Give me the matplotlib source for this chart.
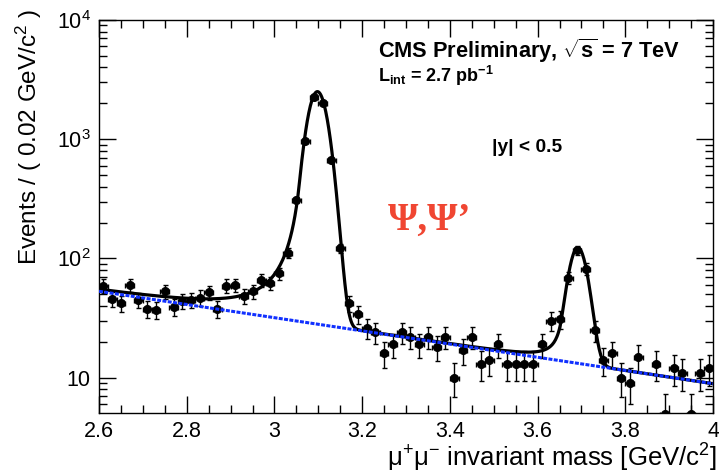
import numpy as np
import matplotlib
matplotlib.use('Agg')
import matplotlib.pyplot as plt
from matplotlib.ticker import MultipleLocator, LogLocator, FuncFormatter, NullFormatter

plt.rcParams['font.family'] = ['Liberation Sans', 'DejaVu Sans']
plt.rcParams['mathtext.fontset'] = 'custom'
plt.rcParams['mathtext.rm'] = 'Liberation Sans'
plt.rcParams['mathtext.it'] = 'Liberation Sans:italic'
plt.rcParams['mathtext.bf'] = 'Liberation Sans:bold'

# dimuon mass spectrum, 0.02 GeV bins
bin_width = 0.02
mass = np.round(np.arange(2.61, 4.0, bin_width), 2)
counts = [59, 46, 42, 60, 45, 38, 37, 53, 39, 44, 45, 47, 52, 38, 59, 60, 48, 53, 66, 62,
          75, 111, 310, 957, 2280, 2030, 671, 122, 42, 34, 26, 24, 16, 19, 24, 22, 19, 22, 18, 22,
          10, 17, 22, 13, 14, 19, 13, 13, 13, 13, 19, 30, 31, 69, 117, 82, 25, 14, 16, 10,
          9, 15, 0, 13, 5, 12, 11, 5, 11, 12]

# fit result (background exponential + two Crystal Ball peaks), per bin
bg_at_26 = 53.0
bg_at_40 = 8.9
jpsi_peak = 2480.0
jpsi_mean = 3.098
jpsi_sigma = 0.0215
psi2s_peak = 110.0
psi2s_mean = 3.692
psi2s_sigma = 0.0195
cb_alpha = 1.9
cb_n = 1.6


def background(m):
    slope = np.log(bg_at_40 / bg_at_26) / 1.4
    return bg_at_26 * np.exp(slope * (m - 2.6))


def crystal_ball(m, mean, sigma):
    t = (m - mean) / sigma
    a = (cb_n / cb_alpha) ** cb_n * np.exp(-cb_alpha ** 2 / 2)
    b = cb_n / cb_alpha - cb_alpha
    tail = a * np.abs(b - t) ** (-cb_n)
    return np.where(t > -cb_alpha, np.exp(-t ** 2 / 2), tail)


m_fit = np.linspace(2.6, 4.0, 800)
bg_curve = background(m_fit)
total_curve = (bg_curve + jpsi_peak * crystal_ball(m_fit, jpsi_mean, jpsi_sigma)
               + psi2s_peak * crystal_ball(m_fit, psi2s_mean, psi2s_sigma))

counts = np.array(counts, dtype=float)
keep = counts > 0

fig = plt.figure(figsize=(7.19, 4.74), dpi=100)
ax = fig.add_axes([99 / 719, 1 - 413 / 474, 614 / 719, 393 / 474])

ax.errorbar(mass[keep], counts[keep], yerr=np.sqrt(counts[keep]), xerr=bin_width / 2,
            fmt='o', color='black', ms=5.5, elinewidth=1.0, capsize=1.8, capthick=1.0,
            zorder=3, clip_on=True)
ax.plot(m_fit, total_curve, color='black', lw=2.3, zorder=4)
ax.plot(m_fit, bg_curve, color='#1030ff', lw=2.2, ls=(0, (1.3, 0.45)), zorder=5)

ax.set_yscale('log')
ax.set_xlim(2.6, 4.0)
ax.set_ylim(5.05, 1e4)

ax.xaxis.set_major_locator(MultipleLocator(0.2))
ax.xaxis.set_minor_locator(MultipleLocator(0.05))
ax.xaxis.set_major_formatter(FuncFormatter(lambda v, p: f'{v:g}'))
ax.yaxis.set_major_locator(LogLocator(base=10, numticks=10))
ax.yaxis.set_minor_locator(LogLocator(base=10, subs=np.arange(2, 10), numticks=20))
ax.yaxis.set_minor_formatter(NullFormatter())
ax.yaxis.set_major_formatter(FuncFormatter(
    lambda v, p: '10' if abs(v - 10) < 1e-6 else f'$10^{{{int(round(np.log10(v)))}}}$'))

ax.tick_params(which='both', direction='in', top=True, right=True, labelsize=15.5, width=1.0)
ax.tick_params(which='major', length=12)
ax.tick_params(which='minor', length=6)
ax.tick_params(axis='x', pad=6)
ax.tick_params(axis='y', pad=6)
for s in ax.spines.values():
    s.set_linewidth(1.0)

fig.text(717 / 719, 1 - 467 / 474, r'μ$^{+}$μ$^{-}$ invariant mass [GeV/c$^{2}$]',
         ha='right', va='baseline', fontsize=18.5)
fig.text(29 / 719, 1 - 9 / 474, r'Events / ( 0.02 GeV/c$^{2}$ )',
         ha='center', va='top', rotation=90, fontsize=17.5)

ax.text(378, 474 - 58, r'CMS Preliminary, $\mathbf{\sqrt{s}}$ = 7 TeV', transform=None,
        fontsize=15.7, fontweight='bold', ha='left', va='baseline')
ax.text(378, 474 - 82, r'L$_{\mathbf{int}}$ = 2.7 pb$^{\mathbf{-1}}$', transform=None,
        fontsize=13.0, fontweight='bold', ha='left', va='baseline')
ax.text(492, 474 - 152, '|y| < 0.5', transform=None,
        fontsize=13.8, fontweight='bold', ha='left', va='baseline')
ax.text(388, 474 - 230, 'Ψ,Ψ’', transform=None, fontsize=28, fontweight='bold',
        family=['Liberation Serif', 'DejaVu Serif'], color='#f04632', ha='left', va='baseline')

fig.savefig('out.png', dpi=100)
